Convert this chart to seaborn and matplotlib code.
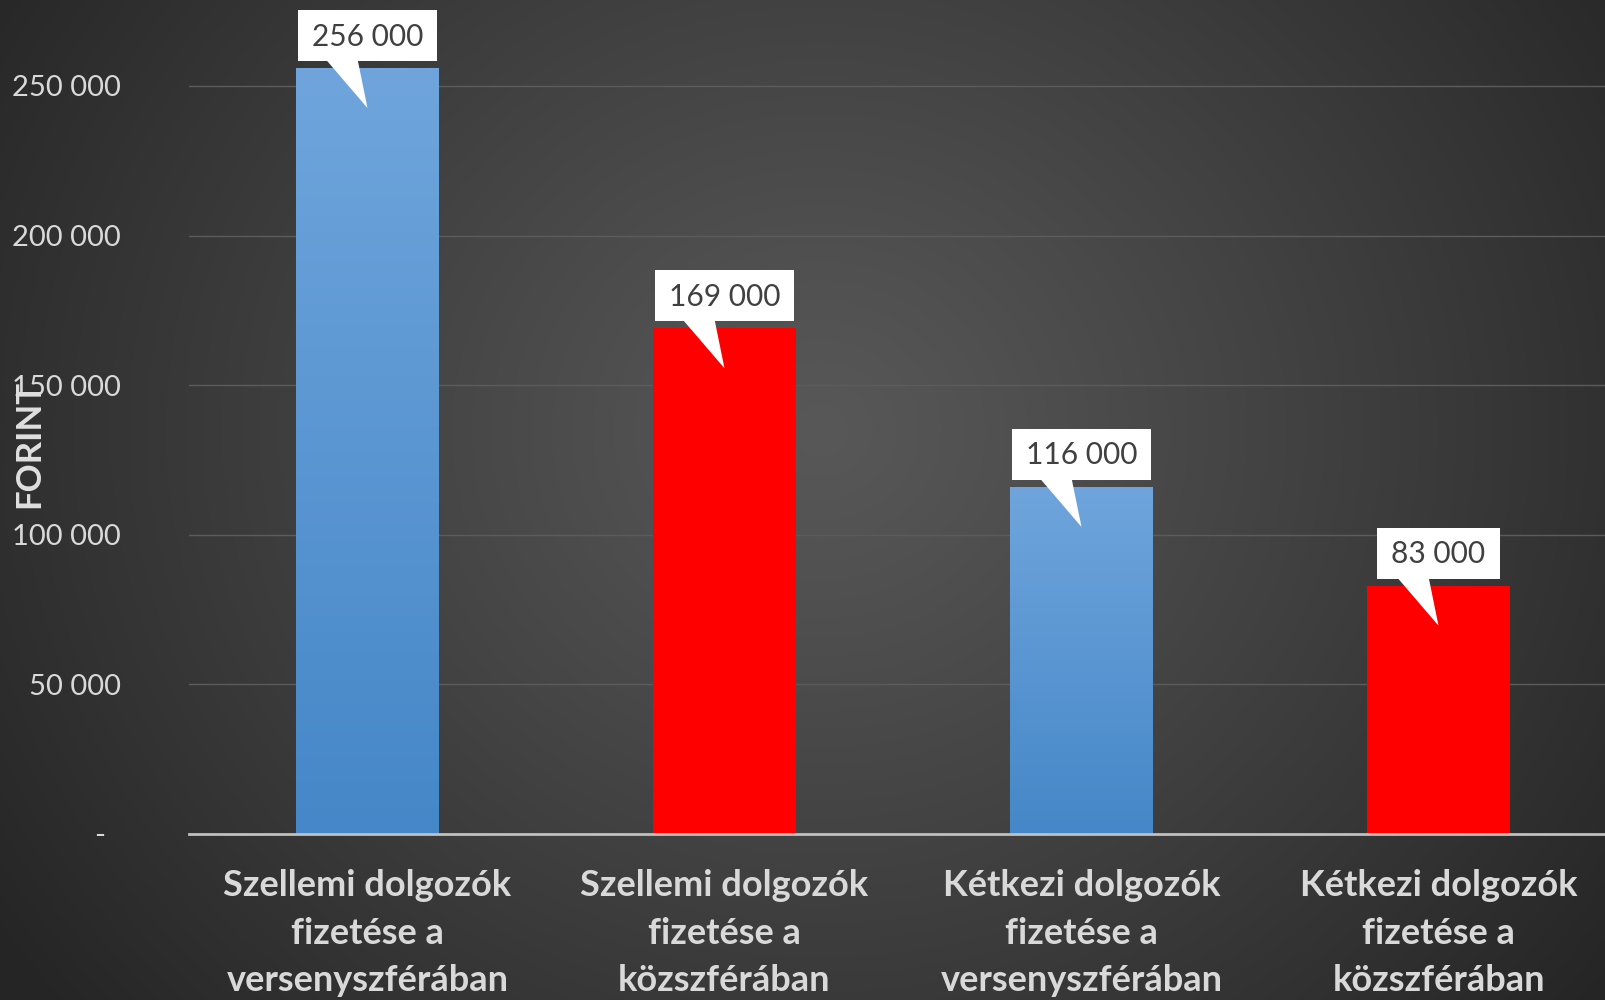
import numpy as np
import pandas as pd
import matplotlib
matplotlib.use("Agg")
import matplotlib.pyplot as plt
import seaborn as sns
from matplotlib.colors import LinearSegmentedColormap
from matplotlib.patches import Polygon, Rectangle

# ---- data ----
categories = [
    "Szellemi dolgozók\nfizetése a\nversenyszférában",
    "Szellemi dolgozók\nfizetése a\nközszférában",
    "Kétkezi dolgozók\nfizetése a\nversenyszférában",
    "Kétkezi dolgozók\nfizetése a\nközszférában",
]
values = [256000, 169000, 116000, 83000]
value_labels = ["256 000", "169 000", "116 000", "83 000"]
bar_colors = ["#5b9bd5", "#ff0000", "#5b9bd5", "#ff0000"]
gradient_bars = [True, False, True, False]
yticks = [0, 50000, 100000, 150000, 200000, 250000]
ytick_labels = ["-  ", "50 000", "100 000", "150 000", "200 000", "250 000"]
y_label = "FORINT"

# ---- style ----
W, H, DPI = 1605, 1000, 100
sns.set_theme(style="dark")
plt.rcParams['font.family'] = ['Lato', 'DejaVu Sans']

fig = plt.figure(figsize=(W / DPI, H / DPI), dpi=DPI)

# radial gradient background
bg = fig.add_axes([0, 0, 1, 1], zorder=-10)
yy, xx = np.mgrid[0:H, 0:W]
r = np.hypot(xx - 820, (yy - 430) * 1.1)
t = np.clip(r / 1000, 0, 1) ** 1.1
c0 = np.array([0x58, 0x58, 0x58]) / 255
c1 = np.array([0x25, 0x25, 0x25]) / 255
img = c0 + (c1 - c0) * t[..., None]
bg.imshow(img, aspect='auto', extent=(0, 1, 0, 1), origin='upper')
bg.set_axis_off()

# main axes (extends slightly past the right edge, as in the cropped original)
ax_left, ax_bottom_px, step_px = 189, 834, 357
ax = fig.add_axes([ax_left / W, 1 - ax_bottom_px / H, 4 * step_px / W, ax_bottom_px / H])
ax.set_facecolor('none')

df = pd.DataFrame({"cat": categories, "val": values})
sns.barplot(data=df, x="cat", y="val", hue="cat", palette=bar_colors,
            width=0.400, legend=False, ax=ax, saturation=1, zorder=3,
            linewidth=0, edgecolor='none')

ymax = ax_bottom_px / 149.6 * 50000
ax.set_xlim(-0.5, 3.5)
ax.set_ylim(0, ymax)

# gradient fill for blue bars
blue_cmap = LinearSegmentedColormap.from_list("bl", ["#4587c8", "#6fa5dc"])
grad = np.linspace(0, 1, 256)[:, None]
for patch, use_grad in zip(ax.patches, gradient_bars):
    if use_grad:
        x0, y0 = patch.get_x(), patch.get_y()
        w, h = patch.get_width(), patch.get_height()
        im = ax.imshow(grad, cmap=blue_cmap, aspect='auto', origin='lower',
                       extent=(x0, x0 + w, y0, y0 + h), zorder=3.1)
        im.set_clip_path(patch)
ax.set_xlim(-0.5, 3.5)
ax.set_ylim(0, ymax)

# axes styling
ax.set_xlabel("")
ax.set_yticks(yticks)
ax.set_yticklabels(ytick_labels, fontsize=21, color="#d9d9d9")
ax.set_xticks(range(len(categories)))
ax.set_xticklabels(categories, fontsize=26, fontweight='bold', color="#d9d9d9",
                   linespacing=1.55)
ax.tick_params(axis='x', length=0, pad=25)
ax.tick_params(axis='y', length=0, pad=49)
ax.yaxis.grid(True, color="#5c5c5c", lw=1)
ax.xaxis.grid(False)
ax.set_axisbelow(True)
for s in ['top', 'right', 'left']:
    ax.spines[s].set_visible(False)
ax.spines['bottom'].set_color("#c0c0c0")
ax.spines['bottom'].set_linewidth(2)
ax.spines['bottom'].set_zorder(5)

ax.set_ylabel(y_label, fontsize=25, fontweight='bold', color="#e0e0e0")
ax.yaxis.set_label_coords(-0.101, 0.468)

# callout labels
fig.canvas.draw()
renderer = fig.canvas.get_renderer()
inv = ax.transData.inverted()
for i, (v, lab) in enumerate(zip(values, value_labels)):
    cx, top = ax.transData.transform((i, v))
    box_bottom = top + 7
    box_h = 51
    txt = ax.text(i, v, lab, fontsize=21.5, color="#404040", ha='center', va='center', zorder=7)
    tw = txt.get_window_extent(renderer).width
    box_w = tw + 28
    (bx0, by0) = inv.transform((cx - box_w / 2, box_bottom))
    (bx1, by1) = inv.transform((cx + box_w / 2, box_bottom + box_h))
    ax.add_patch(Rectangle((bx0, by0), bx1 - bx0, by1 - by0, facecolor='white',
                           edgecolor='none', zorder=6))
    (_, ty) = inv.transform((cx, box_bottom + box_h / 2 - 1))
    txt.set_position((i, ty))
    tri = [inv.transform((cx - 42, box_bottom + 2)),
           inv.transform((cx - 10, box_bottom + 2)),
           inv.transform((cx, top - 40))]
    ax.add_patch(Polygon(tri, closed=True, facecolor='white', edgecolor='none', zorder=6))

fig.savefig("out.png", dpi=DPI)
